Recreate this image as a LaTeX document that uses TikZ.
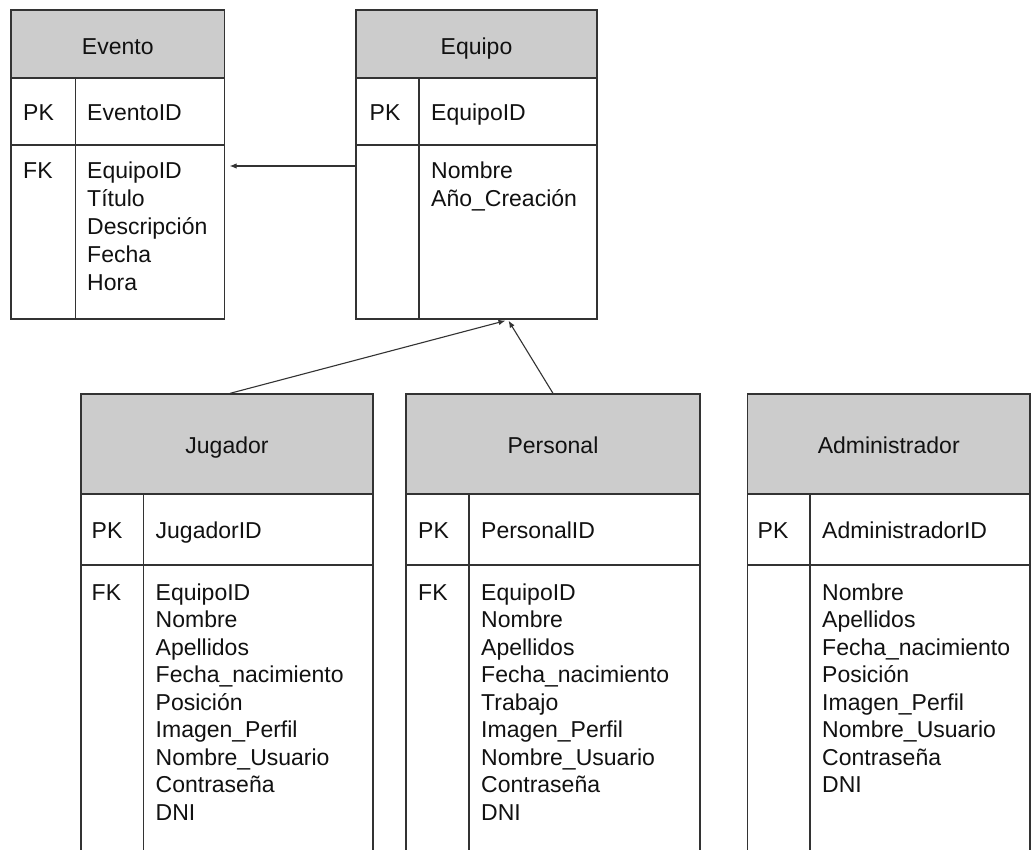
\documentclass[tikz,border=0pt]{standalone}
\usepackage{fontspec}
\setmainfont{Liberation Sans}
\usetikzlibrary{fit,arrows.meta}
\definecolor{hdrgray}{HTML}{CCCCCC}
\definecolor{linegray}{HTML}{333333}
\definecolor{txtcol}{HTML}{111111}
\newcommand\fieldlist[1]{\vtop{\halign{##\hfil\cr#1\crcr}}}
\begin{document}
\begin{tikzpicture}[x=1pt,y=-1pt,
  cellbox/.style={draw=linegray, line width=1.3pt, inner sep=0pt},
  hdrbox/.style={cellbox, fill=hdrgray},
  txt/.style={font=\fontsize{23}{28}\selectfont, text=txtcol, inner sep=0pt},
  txtlow/.style={font=\fontsize{23}{27.5}\selectfont, text=txtcol, inner sep=0pt},
  link/.style={draw=linegray, line width=1.1pt, -{Latex[length=7pt,width=5.5pt]}}]
\useasboundingbox (0,0) rectangle (1031,850);
\clip (0,0) rectangle (1031,850);
\fill[white] (0,0) rectangle (1031,850);

% ---------- Evento ----------
\node[hdrbox, fit={(11,10) (224.5,78)}] (evH) {};
\node[cellbox, fit={(11,78) (75.5,145)}] (evPk) {};
\node[cellbox, fit={(75.5,78) (224.5,145)}] (evPv) {};
\node[cellbox, fit={(11,145) (75.5,319)}] (evBk) {};
\node[cellbox, fit={(75.5,145) (224.5,319)}] (evBv) {};
\node[txt, anchor=base] (evT) at (evH.center |- 0,55) {Evento};
\node[txt, anchor=base west] (evPkT) at (23,120.5) {PK};
\node[txt, anchor=base west] (evPvT) at (87,120.5) {EventoID};
\node[txt, anchor=base west] (evBkT) at (23,178.5) {FK};
\node[txt, anchor=base west] (evBvT) at (87,178.5) {\fieldlist{EquipoID\cr Título\cr Descripción\cr Fecha\cr Hora}};

% ---------- Equipo ----------
\node[hdrbox, fit={(356,10) (597,78)}] (eqH) {};
\node[cellbox, fit={(356,78) (419,145)}] (eqPk) {};
\node[cellbox, fit={(419,78) (597,145)}] (eqPv) {};
\node[cellbox, fit={(356,145) (419,319)}] (eqBk) {};
\node[cellbox, fit={(419,145) (597,319)}] (eqBv) {};
\node[txt, anchor=base] (eqT) at (eqH.center |- 0,55) {Equipo};
\node[txt, anchor=base west] (eqPkT) at (369.5,120.5) {PK};
\node[txt, anchor=base west] (eqPvT) at (431,120.5) {EquipoID};
\node[txt, anchor=base west] (eqBvT) at (431,178.5) {\fieldlist{Nombre\cr Año\_Creación}};

% ---------- Jugador ----------
\node[hdrbox, fit={(81,394) (373,494)}] (juH) {};
\node[cellbox, fit={(81,494) (143.5,565)}] (juPk) {};
\node[cellbox, fit={(143.5,494) (373,565)}] (juPv) {};
\node[cellbox, fit={(81,565) (143.5,870)}] (juBk) {};
\node[cellbox, fit={(143.5,565) (373,870)}] (juBv) {};
\node[txtlow, anchor=base] (juT) at (juH.center |- 0,453) {Jugador};
\node[txtlow, anchor=base west] (juPkT) at (91.5,538.5) {PK};
\node[txtlow, anchor=base west] (juPvT) at (155.5,538.5) {JugadorID};
\node[txtlow, anchor=base west] (juBkT) at (91.5,600) {FK};
\node[txtlow, anchor=base west] (juBvT) at (155.5,600) {\fieldlist{EquipoID\cr Nombre\cr Apellidos\cr Fecha\_nacimiento\cr Posición\cr Imagen\_Perfil\cr Nombre\_Usuario\cr Contraseña\cr DNI}};

% ---------- Personal ----------
\node[hdrbox, fit={(406,394) (700,494)}] (peH) {};
\node[cellbox, fit={(406,494) (469,565)}] (pePk) {};
\node[cellbox, fit={(469,494) (700,565)}] (pePv) {};
\node[cellbox, fit={(406,565) (469,870)}] (peBk) {};
\node[cellbox, fit={(469,565) (700,870)}] (peBv) {};
\node[txtlow, anchor=base] (peT) at (peH.center |- 0,453) {Personal};
\node[txtlow, anchor=base west] (pePkT) at (418,538.5) {PK};
\node[txtlow, anchor=base west] (pePvT) at (481,538.5) {PersonalID};
\node[txtlow, anchor=base west] (peBkT) at (418,600) {FK};
\node[txtlow, anchor=base west] (peBvT) at (481,600) {\fieldlist{EquipoID\cr Nombre\cr Apellidos\cr Fecha\_nacimiento\cr Trabajo\cr Imagen\_Perfil\cr Nombre\_Usuario\cr Contraseña\cr DNI}};

% ---------- Administrador ----------
\node[hdrbox, fit={(747.5,394) (1030,494)}] (adH) {};
\node[cellbox, fit={(747.5,494) (810,565)}] (adPk) {};
\node[cellbox, fit={(810,494) (1030,565)}] (adPv) {};
\node[cellbox, fit={(747.5,565) (810,870)}] (adBk) {};
\node[cellbox, fit={(810,565) (1030,870)}] (adBv) {};
\node[txtlow, anchor=base] (adT) at (adH.center |- 0,453) {Administrador};
\node[txtlow, anchor=base west] (adPkT) at (757.5,538.5) {PK};
\node[txtlow, anchor=base west] (adPvT) at (822,538.5) {AdministradorID};
\node[txtlow, anchor=base west] (adBvT) at (822,600) {\fieldlist{Nombre\cr Apellidos\cr Fecha\_nacimiento\cr Posición\cr Imagen\_Perfil\cr Nombre\_Usuario\cr Contraseña\cr DNI}};

% ---------- connectors ----------
\draw[link, shorten >=4.5pt] (eqBk.west |- 0,166) -- (evBv.east |- 0,166);
\draw[link] ([xshift=3pt]juH.north) -- ([xshift=-2.5pt,yshift=-1pt]eqBv.south);
\draw[link] (peH.north) -- ([xshift=0.5pt,yshift=-1pt]eqBv.south);
\end{tikzpicture}
\end{document}
